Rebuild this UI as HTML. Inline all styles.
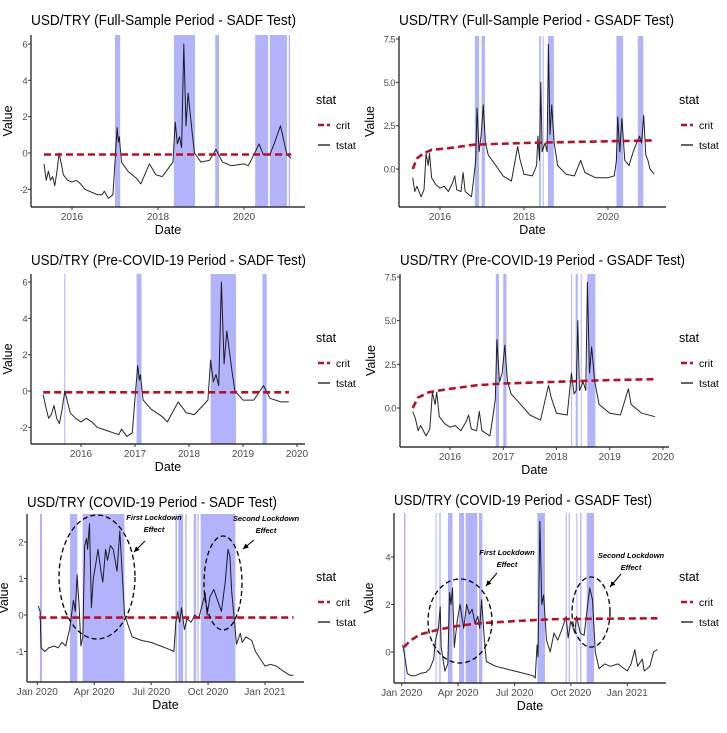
<!DOCTYPE html>
<html><head><meta charset="utf-8">
<style>
html,body{margin:0;padding:0;background:#fff;}
svg{display:block;font-family:"Liberation Sans",sans-serif;}
</style></head>
<body>
<svg id="chart" width="727" height="733" viewBox="0 0 727 733" xmlns="http://www.w3.org/2000/svg"></svg>
<script>
// ---------- Panel 1: Full-sample SADF ----------
const p1Dates=[2015.35,2015.4,2015.45,2015.5,2015.55,2015.6,2015.65,2015.7,2015.75,2015.8,2015.9,2016.0,2016.1,2016.2,2016.3,2016.4,2016.5,2016.6,2016.7,2016.75,2016.85,2016.95,2017.0,2017.05,2017.08,2017.1,2017.15,2017.3,2017.5,2017.6,2017.8,2017.95,2018.1,2018.35,2018.4,2018.45,2018.5,2018.55,2018.6,2018.65,2018.7,2018.8,2018.85,2019.0,2019.2,2019.35,2019.5,2019.7,2020.0,2020.1,2020.25,2020.35,2020.45,2020.6,2020.7,2020.85,2020.95,2021.0,2021.1];
const p1Tstat=[-0.6,-1.5,-1.0,-1.5,-1.3,-1.8,-1.0,0.0,-0.6,-1.2,-1.5,-1.6,-1.5,-1.7,-2.0,-2.1,-2.2,-2.3,-2.3,-2.1,-2.5,-2.3,-0.5,1.4,0.6,0.9,-0.5,-1.0,-1.4,-1.7,-0.6,-1.2,-1.3,-0.5,1.7,0.5,0.9,0.3,6.0,1.5,3.3,1.0,0.0,-0.5,-0.4,0.2,-0.5,-0.7,-0.6,-0.7,0.0,0.5,-0.1,-0.1,0.5,1.5,0.4,-0.1,-0.3];
const p1CritDates=[2015.35,2021.1];
const p1Crit=[-0.08,-0.08];
const p1BandStart=[2017.0,2018.37,2019.33,2020.26,2020.6,2021.04];
const p1BandEnd=[2017.12,2018.86,2019.42,2020.56,2021.0,2021.07];
const p1XTicks=[2016,2018,2020];
const p1XLabels=["2016","2018","2020"];
const p1YTicks=[-2,0,2,4,6];
const p1YLabels=["-2","0","2","4","6"];

// ---------- Panel 2: Pre-COVID SADF ----------
const p2Dates=[2015.3,2015.35,2015.4,2015.45,2015.5,2015.55,2015.6,2015.65,2015.7,2015.75,2015.8,2015.9,2016.0,2016.1,2016.2,2016.3,2016.4,2016.5,2016.6,2016.7,2016.75,2016.85,2016.95,2017.0,2017.05,2017.08,2017.1,2017.15,2017.3,2017.5,2017.6,2017.8,2017.95,2018.1,2018.35,2018.4,2018.45,2018.5,2018.55,2018.6,2018.65,2018.7,2018.8,2018.85,2019.0,2019.2,2019.38,2019.5,2019.7,2019.85];
const p2Tstat=[-0.2,-0.9,-1.5,-1.3,-0.8,-1.5,-1.8,-1.0,0.0,-0.6,-1.2,-1.5,-1.7,-1.5,-1.7,-2.0,-2.1,-2.2,-2.3,-2.4,-2.1,-2.5,-2.3,-0.4,1.4,0.6,0.9,-0.5,-1.0,-1.4,-1.7,-0.6,-1.2,-1.3,-0.5,1.7,0.5,0.9,0.3,6.0,1.5,3.3,1.0,0.0,-0.5,-0.5,0.3,-0.4,-0.6,-0.6];
const p2CritDates=[2015.3,2019.85];
const p2Crit=[-0.07,-0.07];
const p2BandStart=[2015.69,2017.03,2018.4,2019.36];
const p2BandEnd=[2015.71,2017.12,2018.87,2019.44];
const p2XTicks=[2016,2017,2018,2019,2020];
const p2XLabels=["2016","2017","2018","2019","2020"];
const p2YTicks=[-2,0,2,4,6];
const p2YLabels=["-2","0","2","4","6"];

// ---------- Panel 3: COVID SADF (months since Jan 2020) ----------
const p3Months=[0.05,0.15,0.2,0.4,0.6,0.9,1.1,1.3,1.5,1.6,1.7,1.8,1.9,2.0,2.1,2.2,2.3,2.4,2.5,2.6,2.65,2.75,2.85,2.95,3.05,3.2,3.35,3.45,3.6,3.7,3.85,4.0,4.2,4.35,4.6,4.8,5.0,5.5,6.0,6.5,7.0,7.2,7.3,7.4,7.5,7.6,7.75,7.9,8.1,8.3,8.5,8.7,8.85,8.95,9.1,9.3,9.5,9.7,9.9,10.05,10.15,10.25,10.4,10.5,10.7,10.8,11.0,11.3,11.5,12.0,12.3,12.6,13.0,13.3,13.5];
const p3Tstat=[0.25,0.1,-0.9,-1.0,-0.9,-0.85,-0.9,-0.75,-0.85,-0.6,-0.4,0.0,0.4,0.1,1.1,0.3,-0.85,-0.6,1.9,2.1,1.8,2.5,0.2,1.0,1.3,1.8,1.2,0.9,1.8,1.5,1.9,1.8,1.2,2.3,0.0,-0.3,-0.6,-0.7,-0.75,-0.85,-0.95,-1.0,-0.2,0.1,-0.2,0.2,-0.4,-0.1,-0.2,0.0,-0.1,0.3,0.6,0.0,0.5,0.7,0.4,0.1,0.9,1.8,1.6,0.6,-0.2,-0.8,-0.5,-0.75,-0.6,-0.7,-1.0,-1.4,-1.35,-1.4,-1.55,-1.65,-1.65];
const p3CritMonths=[0.1,13.5];
const p3Crit=[-0.07,-0.07];
const p3BandStart=[0.14,1.72,2.39,7.28,7.43,7.8,8.24,8.44,8.61];
const p3BandEnd=[0.25,2.11,4.59,7.36,7.68,7.87,8.37,8.5,10.44];
const p3XTicks=[0,3,6,9,12];
const p3XLabels=["Jan 2020","Apr 2020","Jul 2020","Oct 2020","Jan 2021"];
const p3YTicks=[-1,0,1,2];
const p3YLabels=["-1","0","1","2"];

// ---------- Panel 4: Full-sample GSADF ----------
const p4Dates=[2015.35,2015.4,2015.45,2015.55,2015.62,2015.67,2015.72,2015.75,2015.8,2015.9,2016.0,2016.1,2016.2,2016.3,2016.35,2016.4,2016.5,2016.55,2016.6,2016.75,2016.8,2016.85,2016.88,2016.93,2016.98,2017.03,2017.08,2017.15,2017.3,2017.5,2017.7,2017.85,2017.9,2018.0,2018.2,2018.3,2018.33,2018.37,2018.4,2018.43,2018.5,2018.55,2018.58,2018.62,2018.66,2018.72,2018.8,2019.0,2019.2,2019.35,2019.45,2019.7,2020.0,2020.15,2020.2,2020.23,2020.28,2020.33,2020.4,2020.5,2020.6,2020.68,2020.75,2020.8,2020.85,2020.9,2020.95,2021.0,2021.1];
const p4Tstat=[-0.5,-1.3,-1.0,-1.6,-1.2,0.9,0.2,0.9,-0.5,-0.9,-1.1,-1.0,-1.3,-0.8,-0.4,-1.2,-1.3,-0.2,-1.3,-1.6,-0.6,0.5,3.5,1.0,2.0,3.7,1.5,0.8,0.3,-0.4,-0.7,1.3,0.6,-0.3,-0.4,0.2,1.9,0.5,5.0,1.0,1.5,1.0,7.2,2.0,3.7,1.5,0.2,-0.3,-0.4,0.5,-0.2,-0.5,-0.5,-0.4,0.5,3.0,1.0,2.9,0.5,0.2,1.0,1.5,1.9,1.5,3.1,0.8,0.5,0.0,-0.3];
const p4CritDates=[2015.35,2015.45,2015.6,2015.8,2016.2,2016.8,2018.0,2019.0,2020.0,2021.1];
const p4Crit=[0.0,0.6,0.9,1.1,1.2,1.4,1.5,1.55,1.6,1.65];
const p4BandStart=[2016.83,2016.99,2018.36,2018.445,2018.57,2020.2,2020.71];
const p4BandEnd=[2016.93,2017.07,2018.40,2018.455,2018.71,2020.36,2020.84];
const p4XTicks=[2016,2018,2020];
const p4XLabels=["2016","2018","2020"];
const p4YTicks=[0,2.5,5,7.5];
const p4YLabels=["0.0","2.5","5.0","7.5"];

// ---------- Panel 5: Pre-COVID GSADF ----------
const p5Dates=[2015.3,2015.35,2015.4,2015.45,2015.55,2015.62,2015.67,2015.72,2015.75,2015.8,2015.9,2016.0,2016.1,2016.2,2016.3,2016.35,2016.4,2016.5,2016.55,2016.6,2016.75,2016.8,2016.85,2016.88,2016.93,2016.98,2017.03,2017.08,2017.15,2017.3,2017.5,2017.7,2017.85,2017.9,2018.0,2018.2,2018.28,2018.33,2018.37,2018.4,2018.43,2018.5,2018.55,2018.58,2018.62,2018.66,2018.72,2018.8,2019.0,2019.2,2019.35,2019.4,2019.6,2019.85];
const p5Tstat=[-0.2,-0.6,-1.3,-1.0,-1.6,-1.2,0.9,0.2,0.9,-0.5,-0.9,-1.1,-1.0,-1.3,-0.8,-0.4,-1.2,-1.3,-0.2,-1.3,-1.6,-0.6,0.5,3.9,1.5,2.0,3.6,1.5,0.8,0.3,-0.4,-0.7,1.3,0.6,-0.3,-0.4,2.0,0.8,1.0,5.0,1.0,1.5,1.0,7.2,2.0,3.5,1.5,0.2,-0.3,-0.4,1.1,0.2,-0.3,-0.5];
const p5CritDates=[2015.3,2015.4,2015.6,2016.0,2016.5,2017.0,2018.0,2019.0,2019.85];
const p5Crit=[0.0,0.6,0.9,1.1,1.3,1.4,1.5,1.6,1.65];
const p5BandStart=[2016.86,2017.0,2018.275,2018.36,2018.455,2018.58];
const p5BandEnd=[2016.92,2017.06,2018.285,2018.40,2018.465,2018.73];
const p5XTicks=[2016,2017,2018,2019,2020];
const p5XLabels=["2016","2017","2018","2019","2020"];
const p5YTicks=[0,2.5,5,7.5];
const p5YLabels=["0.0","2.5","5.0","7.5"];

// ---------- Panel 6: COVID GSADF ----------
const p6Months=[0.05,0.15,0.3,0.5,0.7,1.0,1.3,1.5,1.7,1.8,1.95,2.05,2.1,2.3,2.45,2.55,2.62,2.7,2.8,2.95,3.1,3.2,3.3,3.45,3.6,3.75,3.9,4.05,4.15,4.25,4.4,4.5,5.0,5.5,6.0,6.5,7.0,7.1,7.2,7.25,7.35,7.45,7.55,7.7,7.9,8.1,8.3,8.5,8.75,8.85,9.0,9.2,9.3,9.5,9.7,9.85,10.0,10.15,10.3,10.5,10.8,11.1,11.5,12.0,12.2,12.4,12.55,12.8,12.9,13.2,13.4,13.6];
const p6Tstat=[0.3,-0.1,-0.9,-1.0,-1.0,-0.9,-0.85,-0.7,-0.3,0.5,1.0,1.9,0.2,-0.8,-0.5,2.5,2.0,2.7,0.2,1.3,2.0,1.5,1.0,2.0,1.6,1.8,1.2,1.5,1.0,2.2,0.5,-0.4,-0.6,-0.7,-0.8,-0.9,-1.0,-1.1,0.3,-0.2,5.5,2.0,2.4,0.5,0.0,0.8,0.5,0.9,1.5,0.6,1.3,0.8,1.5,0.8,0.7,1.7,2.7,2.2,0.0,-0.7,-0.5,-0.6,-0.5,-0.8,-0.5,0.1,-0.6,-0.3,-0.8,-0.6,0.0,0.1];
const p6CritMonths=[0.1,0.5,1.0,2.0,3.0,4.0,6.0,8.0,10.0,13.6];
const p6Crit=[0.2,0.5,0.75,0.95,1.1,1.2,1.3,1.38,1.4,1.42];
const p6BandStart=[0.12,1.8,2.0,2.46,3.05,3.4,4.11,7.22,8.72,8.88,9.29,9.49,9.84];
const p6BandEnd=[0.2,1.82,2.07,2.7,3.32,4.02,4.29,7.62,8.78,8.94,9.34,9.56,10.23];
const p6XTicks=[0,3,6,9,12];
const p6XLabels=["Jan 2020","Apr 2020","Jul 2020","Oct 2020","Jan 2021"];
const p6YTicks=[0,2,4];
const p6YLabels=["0","2","4"];

const NS="http://www.w3.org/2000/svg";
const svg=document.getElementById('chart');
function mk(tag,attrs,parent){const e=document.createElementNS(NS,tag);for(const k in attrs)e.setAttribute(k,attrs[k]);(parent||svg).appendChild(e);return e;}
function linScale(d0,d1,r0,r1){return v=>r0+(v-d0)*(r1-r0)/(d1-d0);}

function drawPanel(o){
  const g=mk('g',{});
  
  
  const sx=linScale(o.xd[0],o.xd[1],o.xr[0],o.xr[1]);
  const sy=linScale(o.yd[0],o.yd[1],o.yr[0],o.yr[1]);
  const t=mk('text',{x:o.left,y:o.titleY,'font-size':14.5,fill:'#000','textLength':o.titleW,'lengthAdjust':'spacingAndGlyphs'},g);
  t.textContent=o.title;
  
  
  o.bs.forEach((b,i)=>{
    const x0=sx(b),x1=sx(o.be[i]);
    const r=mk('rect',{x:x0,y:o.top,width:Math.max(1,x1-x0),height:o.bottom-o.top,fill:'#b3b3fb'},g);
    
    
  });
  let d='';o.tx.forEach((x,i)=>{d+=(i?'L':'M')+sx(x).toFixed(1)+' '+sy(o.ty[i]).toFixed(1);});
  const tl=mk('path',{d:d,fill:'none',stroke:'#000',"stroke-width":1,"stroke-linejoin":'round',"stroke-opacity":0.85},g);
  
  
  let dc='';o.cx.forEach((x,i)=>{dc+=(i?'L':'M')+sx(x).toFixed(1)+' '+sy(o.cy[i]).toFixed(1);});
  const cl=mk('path',{d:dc,fill:'none',stroke:'#b5112a',"stroke-width":2.6,"stroke-dasharray":'7 4'},g);
  
  
  const ax=mk('line',{x1:o.left,y1:o.bottom,x2:o.right,y2:o.bottom,stroke:'#333',"stroke-width":1.4},g);
  
  
  const ay=mk('line',{x1:o.left,y1:o.top,x2:o.left,y2:o.bottom,stroke:'#333',"stroke-width":1.4},g);
  
  
  o.xt.forEach((v,i)=>{
    const x=sx(v);
    mk('line',{x1:x,y1:o.bottom,x2:x,y2:o.bottom+3,stroke:'#333'},g);
    const tt=mk('text',{x:x,y:o.bottom+13,'font-size':10,fill:'#4d4d4d','text-anchor':'middle'},g);
    tt.textContent=o.xl[i];
    
    
  });
  o.yt.forEach((v,i)=>{
    const y=sy(v);
    mk('line',{x1:o.left-3,y1:y,x2:o.left,y2:y,stroke:'#333'},g);
    const tt=mk('text',{x:o.left-4,y:y+3.5,'font-size':9.5,fill:'#4d4d4d','text-anchor':'end','letter-spacing':'-0.6'},g);
    tt.textContent=o.yl[i];
    
    
  });
  const xt=mk('text',{x:(o.left+o.right)/2,y:o.bottom+27,'font-size':12.5,fill:'#000','text-anchor':'middle'},g);
  xt.textContent='Date';
  
  
  const yc=(o.top+o.bottom)/2, yx=o.left-o.yOff;
  const yt=mk('text',{x:yx,y:yc,'font-size':12.5,fill:'#000','text-anchor':'middle',transform:`rotate(-90 ${yx} ${yc})`},g);
  yt.textContent='Value';
  
  
  const lg=mk('g',{},g);
  
  
  const lx=o.legX, ly=o.legY;
  const st=mk('text',{x:lx,y:ly,'font-size':12.5,fill:'#000'},lg);st.textContent='stat';
  const e1=mk('g',{},lg);
  
  
  mk('line',{x1:lx+2,y1:ly+21,x2:lx+14,y2:ly+21,stroke:'#b5112a','stroke-width':2.6,'stroke-dasharray':'6 3'},e1);
  mk('text',{x:lx+20,y:ly+25,'font-size':10.5,fill:'#000'},e1).textContent='crit';
  const e2=mk('g',{},lg);
  
  
  mk('line',{x1:lx+2,y1:ly+41,x2:lx+14,y2:ly+41,stroke:'#000','stroke-width':1.2},e2);
  mk('text',{x:lx+20,y:ly+45,'font-size':10.5,fill:'#000'},e2).textContent='tstat';
  (o.ann||[]).forEach(a=>{
    const ag=mk('g',{},g);
    
    
    mk('ellipse',{cx:a.cx,cy:a.cy,rx:a.rx,ry:a.ry,fill:'none',stroke:'#000','stroke-width':1.3,'stroke-dasharray':'5 3'},ag);
    const t1=mk('text',{x:a.tx,y:a.ty,'font-size':7.5,'font-style':'italic','font-weight':'bold',fill:'#000','text-anchor':'middle'},ag);t1.textContent=a.l1;
    const t2=mk('text',{x:a.tx,y:a.ty+12,'font-size':7.5,'font-style':'italic','font-weight':'bold',fill:'#000','text-anchor':'middle'},ag);t2.textContent='Effect';
    mk('line',{x1:a.ax1,y1:a.ay1,x2:a.ax2,y2:a.ay2,stroke:'#000','stroke-width':1},ag);
    const ang=Math.atan2(a.ay2-a.ay1,a.ax2-a.ax1);
    const p=(r,da)=>[a.ax2-r*Math.cos(ang+da),a.ay2-r*Math.sin(ang+da)];
    const q1=p(6,0.45),q2=p(6,-0.45);
    mk('polygon',{points:`${a.ax2},${a.ay2} ${q1[0]},${q1[1]} ${q2[0]},${q2[1]}`,fill:'#000'},ag);
  });
}

drawPanel({name:'panel-full-sadf',title:'USD/TRY (Full-Sample Period - SADF Test)',titleW:265,titleY:25,
  left:31,right:305,top:35,bottom:207,xd:[2016,2020],xr:[72,244],yd:[0,6],yr:[153,44],yOff:19,
  tx:p1Dates,ty:p1Tstat,cx:p1CritDates,cy:p1Crit,bs:p1BandStart,be:p1BandEnd,
  xt:p1XTicks,xl:p1XLabels,yt:p1YTicks,yl:p1YLabels,legX:316,legY:104});
drawPanel({name:'panel-precovid-sadf',title:'USD/TRY (Pre-COVID-19 Period - SADF Test)',titleW:275,titleY:265,
  left:31,right:305,top:274,bottom:444,xd:[2016,2020],xr:[81,297],yd:[0,6],yr:[391,282],yOff:19,
  tx:p2Dates,ty:p2Tstat,cx:p2CritDates,cy:p2Crit,bs:p2BandStart,be:p2BandEnd,
  xt:p2XTicks,xl:p2XLabels,yt:p2YTicks,yl:p2YLabels,legX:316,legY:342});
drawPanel({name:'panel-covid-sadf',title:'USD/TRY (COVID-19 Period - SADF Test)',titleW:250,titleY:507,
  left:27,right:304,top:514,bottom:682,xd:[0,12],xr:[37.3,265],yd:[0,2],yr:[615,542],yOff:19,
  tx:p3Months,ty:p3Tstat,cx:p3CritMonths,cy:p3Crit,bs:p3BandStart,be:p3BandEnd,
  xt:p3XTicks,xl:p3XLabels,yt:p3YTicks,yl:p3YLabels,legX:316,legY:581,
  ann:[{name:'first-lockdown-annotation',cx:97,cy:577,rx:38,ry:62,tx:154,ty:520,l1:'First Lockdown',ax1:145,ay1:541,ax2:134,ay2:552},
       {name:'second-lockdown-annotation',cx:223,cy:583,rx:19,ry:47,tx:266,ty:521,l1:'Second Lockdown',ax1:254,ay1:540,ax2:243,ay2:549}]});
drawPanel({name:'panel-full-gsadf',title:'USD/TRY (Full-Sample Period - GSADF Test)',titleW:275,titleY:25,
  left:399,right:666,top:36,bottom:207,xd:[2016,2020],xr:[440,608],yd:[0,7.5],yr:[169,39],yOff:25,
  tx:p4Dates,ty:p4Tstat,cx:p4CritDates,cy:p4Crit,bs:p4BandStart,be:p4BandEnd,
  xt:p4XTicks,xl:p4XLabels,yt:p4YTicks,yl:p4YLabels,legX:679,legY:104});
drawPanel({name:'panel-precovid-gsadf',title:'USD/TRY (Pre-COVID-19 Period - GSADF Test)',titleW:285,titleY:265,
  left:400,right:669,top:274,bottom:447,xd:[2016,2020],xr:[450,663],yd:[0,7.5],yr:[408,277],yOff:25,
  tx:p5Dates,ty:p5Tstat,cx:p5CritDates,cy:p5Crit,bs:p5BandStart,be:p5BandEnd,
  xt:p5XTicks,xl:p5XLabels,yt:p5YTicks,yl:p5YLabels,legX:679,legY:342});
drawPanel({name:'panel-covid-gsadf',title:'USD/TRY (COVID-19 Period - GSADF Test)',titleW:258,titleY:505,
  left:394,right:666,top:513,bottom:683,xd:[0,12],xr:[401.7,627.3],yd:[0,4],yr:[652,557],yOff:21,
  tx:p6Months,ty:p6Tstat,cx:p6CritMonths,cy:p6Crit,bs:p6BandStart,be:p6BandEnd,
  xt:p6XTicks,xl:p6XLabels,yt:p6YTicks,yl:p6YLabels,legX:679,legY:581,
  ann:[{name:'first-lockdown-annotation',cx:460,cy:621,rx:32,ry:42,tx:507,ty:555,l1:'First Lockdown',ax1:497,ay1:573,ax2:486,ay2:586},
       {name:'second-lockdown-annotation',cx:591,cy:612,rx:19,ry:35,tx:631,ty:558,l1:'Second Lockdown',ax1:621,ay1:574,ax2:610,ay2:587}]});
</script>
</body></html>
